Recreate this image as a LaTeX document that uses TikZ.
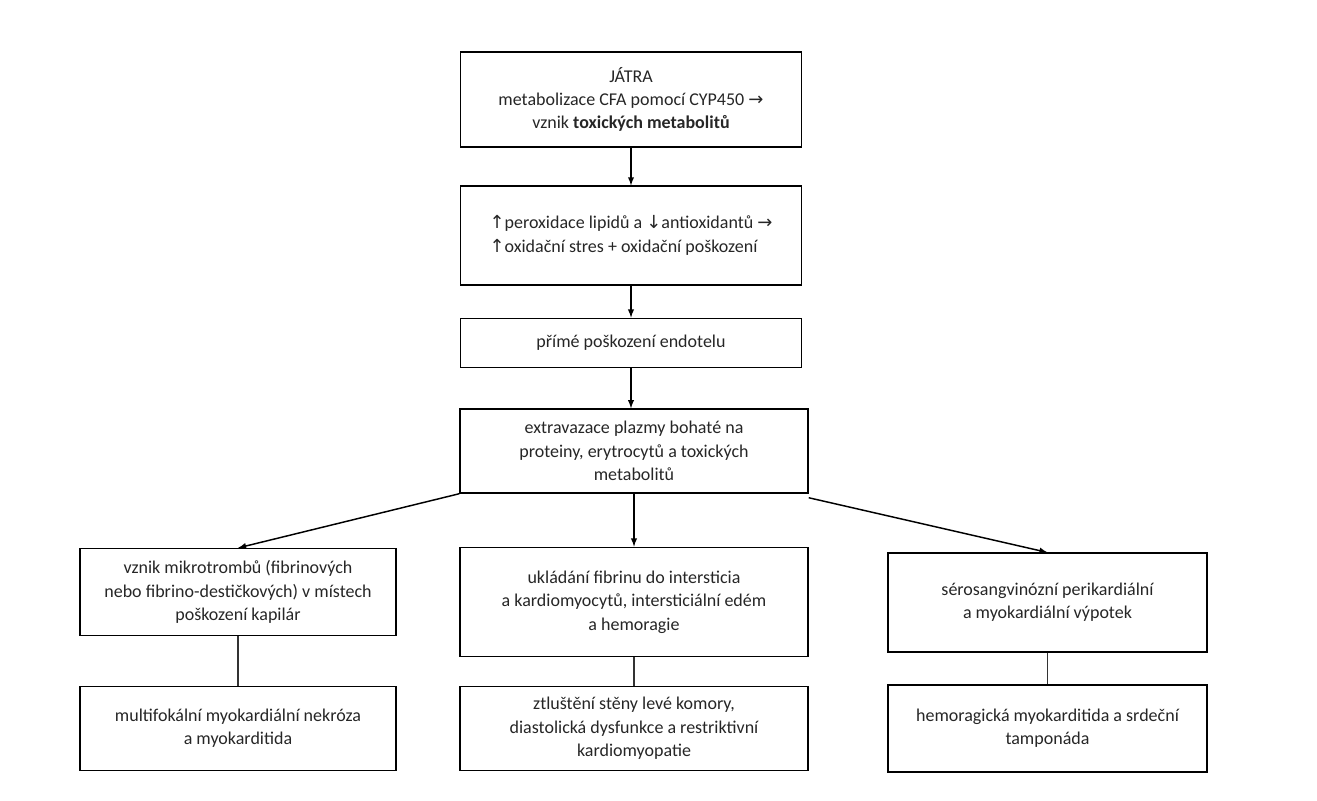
\documentclass[tikz,border=0pt]{standalone}
\usepackage{fontspec}
\setmainfont{Carlito}
\newfontfamily\symfont{DejaVu Sans}
\newcommand{\up}{{\symfont↑}}
\newcommand{\dn}{{\symfont↓}}
\newcommand{\ra}{{\symfont→}}
\tikzset{
  box/.style={draw, line width=1.1pt, align=center, inner sep=2pt,
    font=\fontsize{13.5}{17.5}\selectfont, text=black!85},
  arr/.style={-latex, line width=1.1pt},
  lnk/.style={line width=1.3pt, draw=black!80}
}
\begin{document}
\begin{tikzpicture}[x=0.75pt, y=-0.75pt]
\useasboundingbox (0,0) rectangle (1317,800);
\node[box, minimum width=256pt, minimum height=71pt] (jatra) at (631,99.5)
  {JÁTRA\\metabolizace CFA pomocí CYP450 \ra\\vznik \textbf{toxických metabolitů}};
\node[box, minimum width=256pt, minimum height=74pt, align=left] (stres) at (631,235.5)
  {\up peroxidace lipidů a \dn antioxidantů \ra\\\up oxidační stres + oxidační poškození};
\node[box, minimum width=256pt, minimum height=37pt] (endotel) at (631,343)
  {přímé poškození endotelu};
\node[box, minimum width=261pt, minimum height=63pt] (extrav) at (634,451)
  {extravazace plazmy bohaté na\\proteiny, erytrocytů a toxických\\metabolitů};
\node[box, minimum width=237pt, minimum height=65pt] (mikro) at (238,592)
  {vznik mikrotrombů (fibrinových\\nebo fibrino-destičkových) v místech\\poškození kapilár};
\node[box, minimum width=261pt, minimum height=82pt] (fibrin) at (634,602)
  {ukládání fibrinu do intersticia\\a kardiomyocytů, intersticiální edém\\a hemoragie};
\node[box, minimum width=239pt, minimum height=74pt] (vypotek) at (1047.5,602.5)
  {sérosangvinózní perikardiální\\a myokardiální výpotek};
\node[box, minimum width=237pt, minimum height=63pt] (nekroza) at (238,728.5)
  {multifokální myokardiální nekróza\\a myokarditida};
\node[box, minimum width=261pt, minimum height=63pt] (ztlust) at (634,728.5)
  {ztluštění stěny levé komory,\\diastolická dysfunkce a restriktivní\\kardiomyopatie};
\node[box, minimum width=239pt, minimum height=65pt] (tampon) at (1047.5,728.5)
  {hemoragická myokarditida a srdeční\\tamponáda};
% hlavni osa
\draw[arr] (jatra) -- (stres);
\draw[arr] (stres) -- (endotel);
\draw[arr] (endotel.south) -- (endotel.south |- extrav.north);
% vetveni
\draw[arr] (extrav.south west) -- (mikro.north);
\draw[arr] (extrav) -- (fibrin);
\draw[arr] ([yshift=-3pt]extrav.south east) -- (vypotek.north);
% spojnice dolu
\draw[lnk] (mikro) -- (nekroza);
\draw[lnk] (fibrin) -- (ztlust);
\draw[lnk] (vypotek) -- (tampon);
\end{tikzpicture}
\end{document}
